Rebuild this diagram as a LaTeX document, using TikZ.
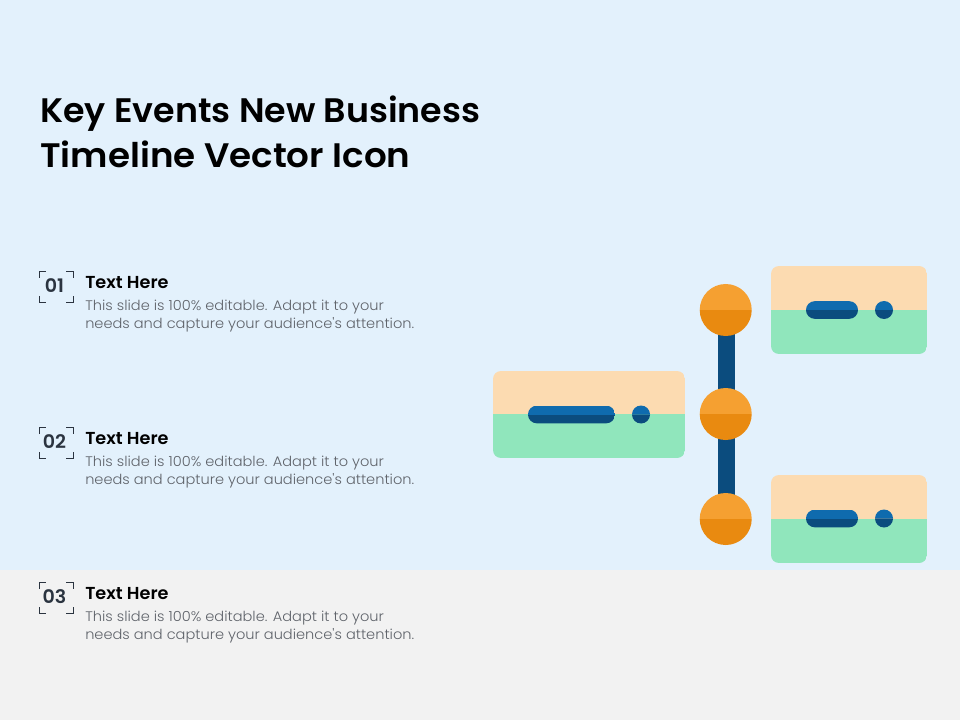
\documentclass[tikz,border=0pt]{standalone}
\usepackage{fontspec}
\setmainfont{Poppins}
\newfontfamily\bodyf{Poppins Light}[FakeStretch=1.051]
\newfontfamily\titlefa{Poppins SemiBold}[FakeStretch=1.025]
\newfontfamily\titlefb{Poppins SemiBold}[FakeStretch=1.05]
\newfontfamily\headf{Poppins SemiBold}[FakeStretch=1.02]
\definecolor{bgblue}{HTML}{E3F1FC}
\definecolor{bggrey}{HTML}{F2F2F2}
\definecolor{peach}{HTML}{FCDBB1}
\definecolor{mint}{HTML}{90E6BC}
\definecolor{orangeL}{HTML}{F5A031}
\definecolor{orangeD}{HTML}{E98A10}
\definecolor{blueL}{HTML}{0F6BAE}
\definecolor{blueD}{HTML}{0B4C7E}
\definecolor{bodygrey}{HTML}{5F636A}
\definecolor{numdark}{HTML}{2B3440}
\tikzset{
  x=0.75pt,y=-0.75pt,
  titletext/.style={anchor=base west,inner sep=0,text=black},
  headtext/.style={anchor=base west,inner sep=0,font=\headf\fontsize{13}{16}\selectfont,text=black},
  bodytext/.style={anchor=base west,inner sep=0,font=\bodyf\fontsize{10.4}{13.5}\selectfont,text=bodygrey},
  numtext/.style={anchor=center,inner sep=0,font=\headf\fontsize{14}{16}\selectfont,text=numdark},
  stem/.style={draw=blueD,line width=12.75pt},
  ballnode/.style={circle,minimum size=39pt,inner sep=0},
  bracket/.style={draw=numdark,line width=0.7pt},
}
\newcommand{\paintball}[1]{% node name
  \fill[orangeL] (#1.west) arc[start angle=180,end angle=360,radius=26] -- cycle;
  \fill[orangeD] (#1.west) arc[start angle=180,end angle=0,radius=26] -- cycle;
}
\newcommand{\cardat}[5]{% x0,y0,x1,ymid,y1
  \begin{scope}
    \clip[rounded corners=6pt] (#1,#2) rectangle (#3,#5);
    \fill[peach] (#1,#2) rectangle (#3,#4);
    \fill[mint] (#1,#4) rectangle (#3,#5);
  \end{scope}
}
\newcommand{\pillat}[4]{% x0,x1,ymid,dotx
  \begin{scope}
    \clip[rounded corners=6.5pt] (#1,#3-8.8) rectangle (#2,#3+8.8);
    \fill[blueL] (#1,#3-9) rectangle (#2,#3);
    \fill[blueD] (#1,#3) rectangle (#2,#3+9);
  \end{scope}
  \fill[blueL] (#4-9,#3) arc[start angle=180,end angle=360,radius=9] -- cycle;
  \fill[blueD] (#4-9,#3) arc[start angle=180,end angle=0,radius=9] -- cycle;
}
\newcommand{\markerat}[3]{% x0,y0,number
  \draw[bracket] (#1,#2+7) -- (#1,#2) -- (#1+7,#2);
  \draw[bracket] (#1+27,#2) -- (#1+34,#2) -- (#1+34,#2+7);
  \draw[bracket] (#1,#2+25) -- (#1,#2+31) -- (#1+7,#2+31);
  \draw[bracket] (#1+27,#2+31) -- (#1+34,#2+31) -- (#1+34,#2+25);
  \node[numtext] (num#3) at (#1+15.5,#2+15) {#3};
}
\newcommand{\entryat}[2]{% y of heading baseline, tag
  \node[headtext] (h#2) at (85,#1) {Text Here};
  \node[bodytext] (ba#2) at (85,#1+22.5) {This slide is 100\% editable. Adapt it to your};
  \node[bodytext] (bb#2) at (85,#1+40.5) {needs and capture your audience's attention.};
}
\begin{document}
\begin{tikzpicture}
\useasboundingbox (0,0) rectangle (960,720);
\fill[bgblue] (0,0) rectangle (960,570);
\fill[bggrey] (0,570) rectangle (960,720);

\node[titletext,font=\titlefa\fontsize{25.5}{30}\selectfont] (t1) at (40,123) {Key Events New Business};
\node[titletext,font=\titlefb\fontsize{25.5}{30}\selectfont] (t2) at (40,168) {Timeline Vector Icon};

\markerat{39}{271}{01}
\entryat{288}{1}
\markerat{39}{427}{02}
\entryat{444}{2}
\markerat{39}{582}{03}
\entryat{599}{3}

\node[ballnode] (top) at (726,310) {};
\node[ballnode] (mid) at (726,414) {};
\node[ballnode] (bot) at (726,519) {};
\draw[stem] ([xshift=0.375pt]top.center) -- ([xshift=0.375pt]mid.center);
\draw[stem] ([xshift=0.375pt]mid.center) -- ([xshift=0.375pt]bot.center);
\paintball{top}
\paintball{mid}
\paintball{bot}

\cardat{771}{266}{927}{310}{354}
\pillat{806}{858}{310}{884}
\cardat{493}{371}{685}{414}{458}
\pillat{528}{615}{414.5}{641}
\cardat{771}{475}{927}{519}{563}
\pillat{806}{858}{518.5}{884}
\end{tikzpicture}
\end{document}
